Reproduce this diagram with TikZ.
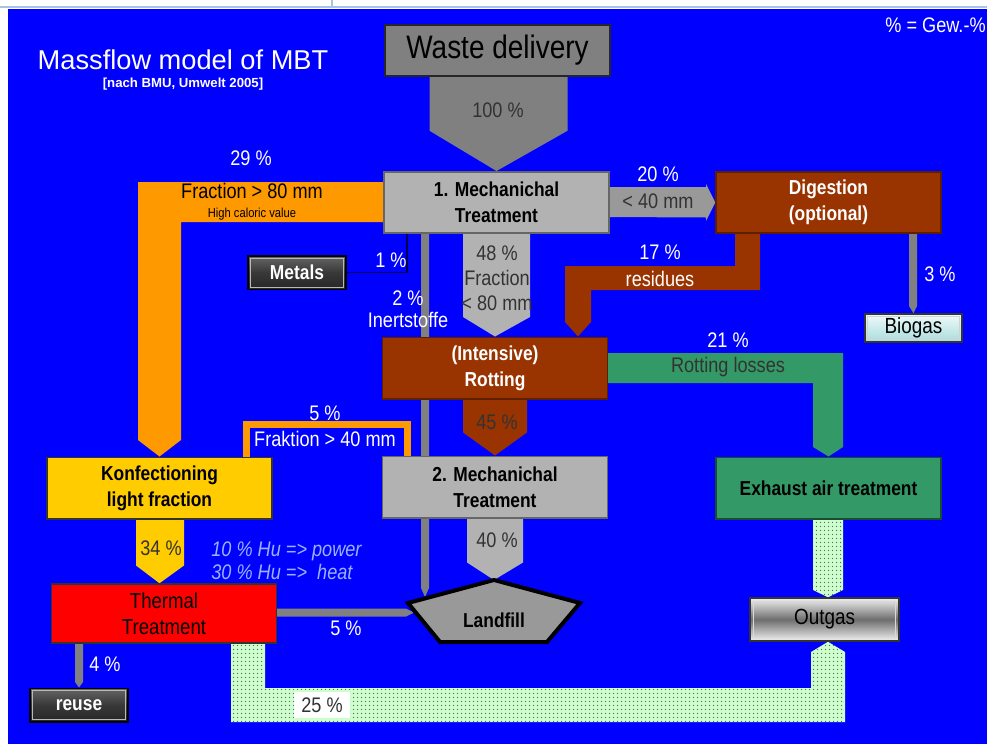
\documentclass[tikz,border=0pt]{standalone}
\usepackage{fontspec}
\setmainfont{Liberation Sans}
\newfontfamily\narrow[FakeStretch=0.86]{Liberation Sans}
\usetikzlibrary{calc,patterns}

\definecolor{bluebg}{HTML}{0000FF}
\definecolor{wgray}{HTML}{808080}
\definecolor{lgray}{HTML}{B2B2B2}
\definecolor{mgray}{HTML}{999999}
\definecolor{brn}{HTML}{993300}
\definecolor{org}{HTML}{FF9900}
\definecolor{ylw}{HTML}{FFCC00}
\definecolor{grn}{HTML}{339966}
\definecolor{rd}{HTML}{FF0000}
\definecolor{lgreen}{HTML}{CCFFCC}
\definecolor{navyline}{HTML}{000050}
\definecolor{italblue}{HTML}{99B3FF}
\definecolor{topline}{HTML}{A9C4DE}
\definecolor{darktext}{HTML}{333333}
\definecolor{silverhi}{HTML}{E6E6E6}
\definecolor{silverlo}{HTML}{6E6E6E}

% fine dot raster for the gas flows
\pgfdeclarepatternformonly{finedots}{\pgfpointorigin}{\pgfpoint{2pt}{2pt}}{\pgfpoint{2pt}{2pt}}{%
  \pgfpathcircle{\pgfpoint{1pt}{1pt}}{0.42pt}\pgfusepath{fill}}

% metallic look: light rims, dark middle
\pgfdeclareverticalshading{silver}{100bp}{color(0bp)=(silverhi); color(27bp)=(silverhi);
  color(50bp)=(silverlo); color(73bp)=(silverhi); color(100bp)=(silverhi)}

\pgfdeclarelayer{bg}
\pgfsetlayers{bg,main}

\tikzset{
  box/.style={draw=black!70, line width=0.03cm, inner sep=0pt, align=center,
    font=\narrow\bfseries\fontsize{11.5}{14.7}\selectfont},
  wide/.style={minimum width=4.5cm, minimum height=1.23cm},
  lbl/.style={inner sep=0pt, align=center, font=\narrow\fontsize{12}{14.7}\selectfont},
  wl/.style={lbl, text=white},
  dl/.style={lbl, text=darktext},
  bl/.style={lbl, text=black},
  darkbtn/.style={draw=black, line width=0.03cm, inner sep=0pt, text=white,
    minimum width=1.96cm, minimum height=0.67cm,
    top color=black!60, bottom color=black!85, middle color=black!78,
    font=\narrow\bfseries\fontsize{11.5}{14}\selectfont},
  silverbtn/.style={draw=black!80, line width=0.03cm, inner sep=0pt, text=black,
    shading=silver, font=\narrow\fontsize{12.5}{14}\selectfont},
  cyanbtn/.style={draw=black!80, line width=0.03cm, inner sep=0pt, text=black,
    top color={rgb,255:red,240;green,250;blue,250}, bottom color={rgb,255:red,168;green,220;blue,220},
    font=\narrow\fontsize{12.5}{14}\selectfont},
  bevel/.style={draw=gray!55, line width=0.02cm},
  dotband/.style={preaction={fill=lgreen}, pattern=finedots, pattern color=black!60},
}

\begin{document}
\begin{tikzpicture}[x=0.02cm,y=-0.02cm]
\useasboundingbox (0,0) rectangle (987,744);

% ---------- process boxes ----------
\node[box, fill=wgray, draw=black!85, minimum width=4.5cm, minimum height=1.02cm,
      font=\narrow\fontsize{18.5}{20}\selectfont] (waste) at (497.5,50.5) {Waste delivery};
\node[box, wide, fill=lgray, draw=black!60] (mech1) at (496.5,202.5) {1. Mechanichal\\Treatment};
\node[box, wide, fill=brn, draw=brn!60!black, text=white] (digest) at (828.5,202.5) {Digestion\\(optional)};
\node[box, wide, fill=brn, draw=brn!60!black, text=white] (rot) at (495,368) {(Intensive)\\Rotting};
\node[box, wide, fill=lgray, draw=black!60] (mech2) at (495,487) {2. Mechanichal\\Treatment};
\node[box, wide, fill=grn, draw=grn!50!black] (exhaust) at (828.5,488) {Exhaust air treatment};
\node[box, wide, fill=ylw, draw=black!80] (konf) at (159.5,488) {Konfectioning\\light fraction};
\node[box, wide, minimum height=1.18cm, fill=rd, draw=black!80,
      font=\narrow\fontsize{12.3}{14.7}\selectfont] (thermal) at (164,613.5) {Thermal\\Treatment};

% ---------- landfill ----------
\coordinate (lfT) at (494,580);
\coordinate (lfR) at (580,603);
\coordinate (lfBR) at (547,642);
\coordinate (lfBL) at (440,642);
\coordinate (lfL) at (408,603);
\coordinate (lfEdge) at (425,597);
\coordinate (lfIn) at (414,612.5);
\draw[line width=0.08cm, fill=mgray, line join=miter] (lfT) -- (lfR) -- (lfBR) -- (lfBL) -- (lfL) -- cycle;
\node[box, draw=none] (landfill) at (494,620) {Landfill};

% ---------- end-point buttons ----------
\node[darkbtn] (metals) at (297,272.5) {Metals};
\draw[bevel] ($(metals.north west)+(3,3)$) rectangle ($(metals.south east)+(-3,-3)$);
\node[darkbtn] (reuse) at (79,705) {reuse};
\draw[bevel] ($(reuse.north west)+(3,3)$) rectangle ($(reuse.south east)+(-3,-3)$);
\node[cyanbtn, minimum width=1.94cm, minimum height=0.56cm] (biogas) at (913.5,328) {Biogas};
\draw[bevel, draw=gray!35] ($(biogas.north west)+(3,3)$) rectangle ($(biogas.south east)+(-3,-3)$);
\node[silverbtn, minimum width=2.98cm, minimum height=0.86cm] (outgas) at (824.5,619.5) {Outgas};
\draw[bevel, draw=white!70!gray] ($(outgas.north west)+(4,4)$) rectangle ($(outgas.south east)+(-4,-4)$);

% ---------- background and flows ----------
\begin{pgfonlayer}{bg}
  \fill[white] (0,0) rectangle (987,744);
  \draw[topline, line width=0.03cm] (0,7) -- (987,7);
  \draw[topline, line width=0.03cm] (332,0) -- (332,7);
  \fill[bluebg] (8,9) rectangle (987,744);

  % 100 %
  \fill[wgray] ($(waste.south)+(-68,0)$) -- ($(waste.south)+(70,0)$) -- ($(waste.south)+(70,54)$)
    -- (mech1.north) -- ($(waste.south)+(-68,54)$) -- cycle;
  % 48 %
  \fill[lgray] ($(mech1.south)+(-33.5,0)$) -- ($(mech1.south)+(33.5,0)$) -- ($(mech1.south)+(33.5,83)$)
    -- (rot.north) -- ($(mech1.south)+(-33.5,83)$) -- cycle;
  % 45 %
  \fill[brn] ($(rot.south)+(-32,0)$) -- ($(rot.south)+(32,0)$) -- ($(rot.south)+(32,33)$)
    -- (mech2.north) -- ($(rot.south)+(-32,33)$) -- cycle;
  % 40 %
  \fill[lgray] ($(mech2.south)+(-28,0)$) -- ($(mech2.south)+(28,0)$) -- ($(mech2.south)+(28,44)$)
    -- (lfT) -- ($(mech2.south)+(-28,44)$) -- cycle;
  % 34 %
  \fill[ylw] ($(konf.south)+(-23.5,0)$) -- ($(konf.south)+(24.5,0)$) -- ($(konf.south)+(24.5,46)$)
    -- (konf.south |- thermal.north) -- ($(konf.south)+(-23.5,46)$) -- cycle;
  % 29 % high caloric fraction
  \fill[org] ($(mech1.west)+(0,-20.5)$) -- (138,182) -- (138,440) -- (konf.north) -- (181,440)
    -- (181,222) -- ($(mech1.west)+(0,19.5)$) -- cycle;
  % 20 % to digestion
  \fill[mgray] ($(mech1.east)+(0,-15.5)$) -- (706,187) -- (706,184) -- (digest.west) -- (706,221)
    -- (706,217.5) -- ($(mech1.east)+(0,14.5)$) -- cycle;
  % 17 % residues
  \fill[brn] (735,0 |- digest.south) -- (760,0 |- digest.south) -- (760,290) -- (591,290) -- (591,322)
    -- (578,0 |- rot.north) -- (565,322) -- (565,266) -- (735,266) -- cycle;
  % 21 % rotting losses
  \fill[grn] ($(rot.east)+(0,-15)$) -- (843,353) -- (843,447) -- (exhaust.north) -- (813,447)
    -- (813,383) -- ($(rot.east)+(0,15)$) -- cycle;
  % 2 % inert material
  \fill[wgray] (421,0 |- mech1.south) -- (429,0 |- mech1.south) -- (429,588) -- (lfEdge) -- (421,588) -- cycle;
  % 1 % metals
  \draw[navyline, line width=0.035cm] (407,0 |- mech1.south) -- (407,0 |- metals.east) -- (metals.east);
  % 3 % biogas
  \fill[wgray] (909,0 |- digest.south) -- (917,0 |- digest.south) -- (917,306) -- (biogas.north) -- (909,306) -- cycle;
  % 5 % ash to landfill
  \fill[wgray] (277,608.5) -- (406,608.5) -- (lfIn) -- (406,616.5) -- (277,616.5) -- cycle;
  % 4 % reuse
  \fill[wgray] (75,0 |- thermal.south) -- (83,0 |- thermal.south) -- (83,682) -- (reuse.north) -- (75,682) -- cycle;
  % 25 % flue gas
  \fill[dotband] (231,0 |- thermal.south) -- (265,0 |- thermal.south) -- (265,688) -- (811,688) -- (811,652)
    -- (828,0 |- outgas.south) -- (845,652) -- (845,722) -- (231,722) -- cycle;
  % exhaust air to outgas
  \fill[dotband] (813,0 |- exhaust.south) -- (843,0 |- exhaust.south) -- (843,590)
    -- (828,0 |- outgas.north) -- (813,590) -- cycle;
\end{pgfonlayer}

% 5 % coarse fraction back to konfectioning
\draw[org, line width=0.14cm, line join=miter] (246.5,0 |- konf.north) -- (246.5,424) -- (407,424) -- (407,0 |- mech2.north);

% ---------- titles ----------
\node[text=white, inner sep=0pt, font=\fontsize{15.5}{18}\selectfont] (title) at (183,60) {Massflow model of MBT};
\node[text=white, inner sep=0pt, font=\bfseries\fontsize{7.5}{9}\selectfont] (source) at (183,84) {[nach BMU, Umwelt 2005]};
\node[wl, anchor=east] (unit) at (986,25) {\% = Gew.-\%};

% ---------- flow labels ----------
\node[dl] (l100) at (498,110) {100 \%};
\node[wl] (l29) at (251,158) {29 \%};
\node[bl] (l80) at (252,191) {Fraction > 80 mm};
\node[bl, font=\narrow\fontsize{7.4}{9}\selectfont] (lhcv) at (252,214) {High caloric value};
\node[wl] (l1) at (391,260) {1 \%};
\node[wl] (l2) at (408,298) {2 \%};
\node[wl] (linert) at (408,320) {Inertstoffe};
\node[dl] (l48) at (497,253) {48 \%};
\node[dl] (l48b) at (497,278) {Fraction};
\node[dl] (l48c) at (497,303) {< 80 mm};
\node[wl] (l20) at (658,174) {20 \%};
\node[dl] (l20b) at (658,201) {< 40 mm};
\node[wl] (l17) at (660,252) {17 \%};
\node[wl] (l17b) at (660,279) {residues};
\node[wl] (l3) at (940,274) {3 \%};
\node[wl] (l21) at (728,340) {21 \%};
\node[dl] (l21b) at (728,367) {Rotting losses};
\node[dl] (l45) at (497,422) {45 \%};
\node[wl] (l5a) at (325,413) {5 \%};
\node[wl] (l5b) at (325,439) {Fraktion > 40 mm};
\node[dl] (l40) at (497,540) {40 \%};
\node[dl] (l34) at (161,548) {34 \%};
\node[lbl, text=italblue, font=\narrow\itshape\fontsize{12}{14.7}\selectfont, anchor=west] (lhu1) at (211,551) {10 \% Hu => power};
\node[lbl, text=italblue, font=\narrow\itshape\fontsize{12}{14.7}\selectfont, anchor=west] (lhu2) at (211,572) {30 \% Hu => \ heat};
\node[wl] (l5c) at (346,628) {5 \%};
\node[wl] (l4) at (105,664) {4 \%};
\node[dl, fill=white, minimum width=1.12cm, minimum height=0.52cm] (l25) at (322,705) {25 \%};
\end{tikzpicture}
\end{document}
